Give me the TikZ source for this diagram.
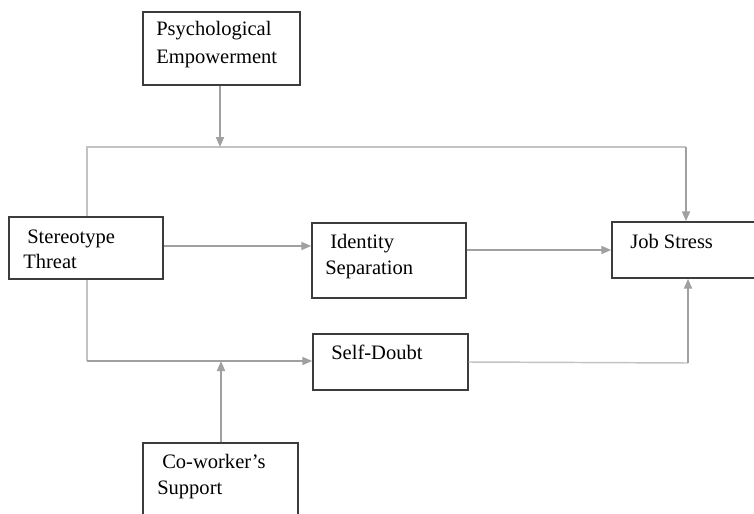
\documentclass[tikz,border=0pt]{standalone}
\usepackage{fontspec}
\setmainfont{Liberation Serif}
\usetikzlibrary{arrows.meta,fit}
\definecolor{boxcol}{RGB}{60,60,60}
\definecolor{arrcol}{RGB}{160,160,160}
\definecolor{lincol}{RGB}{195,195,195}
\tikzset{
  box/.style={draw=boxcol, line width=1.1pt, inner sep=0pt, rectangle},
  lbl/.style={anchor=base west, inner sep=0pt, font=\fontsize{15.4}{18}\selectfont},
  arr/.style={draw=arrcol, line width=1.4pt, -{Triangle[length=7.5pt,width=6pt]}},
  lin/.style={draw=lincol, line width=1.1pt}
}
\begin{document}
\begin{tikzpicture}[x=0.75pt,y=-0.75pt]
\useasboundingbox (0,0) rectangle (754,514);
\clip (0,0) rectangle (754,514);
% boxes
\node[box, fit={(143,12) (300,85)}] (pe) {};
\node[box, fit={(9,217) (163,279)}] (st) {};
\node[box, fit={(312,223) (466,298)}] (is) {};
\node[box, fit={(612,222) (770,278)}] (js) {};
\node[box, fit={(313,334) (468,390)}] (sd) {};
\node[box, fit={(143,443) (298,540)}] (cs) {};
% labels
\node[lbl] (pe1) at (156,36) {Psychological};
\node[lbl] (pe2) at (156,63) {Empowerment};
\node[lbl] (st1) at (27,243) {Stereotype};
\node[lbl] (st2) at (23,268) {Threat};
\node[lbl] (is1) at (330,248) {Identity};
\node[lbl] (is2) at (325,274) {Separation};
\node[lbl] (js1) at (630,248) {Job Stress};
\node[lbl] (sd1) at (331,359) {Self-Doubt};
\node[lbl] (cs1) at (162,468) {Co-worker’s};
\node[lbl] (cs2) at (157,494) {Support};
% junction coordinates
\coordinate (tl) at (87,147);
\coordinate (tr) at (686,147);
\coordinate (tm) at (220,147);
\coordinate (bl) at (87,361);
\coordinate (bm) at (221,361);
\coordinate (br) at (688,363);
% connectors
\draw[lin] (st.north -| tl) -- (tl) -- (tr);
\draw[arr] (tr) -- (js.north -| tr);
\draw[arr] (pe.south -| tm) -- (tm);
\draw[arr] (st.east |- 0,246) -- (is.west |- 0,246);
\draw[arr] (is.east |- js.west) -- (js.west);
\draw[lin] (st.south -| bl) -- (bl);
\draw[arr] (bl) -- (sd.west |- bl);
\draw[arr] (cs.north -| bm) -- (bm);
\draw[lin] (sd.east |- 0,362) -- (br);
\draw[arr] (br) -- (js.south -| br);
\end{tikzpicture}
\end{document}
